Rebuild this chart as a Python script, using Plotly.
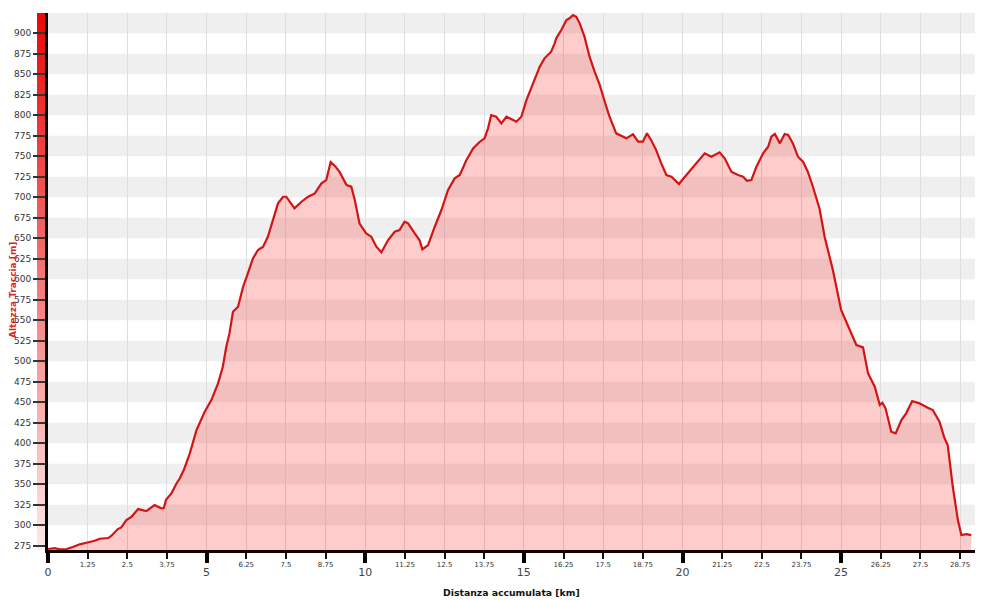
import plotly.graph_objects as go

dist_km = [0.0, 0.21, 0.37, 0.59, 0.8, 1.0, 1.21, 1.47, 1.63, 1.9, 2.0, 2.2, 2.31, 2.47, 2.63, 2.84, 3.1, 3.36, 3.57, 3.65, 3.72,
           3.89, 4.05, 4.15, 4.28, 4.47, 4.68, 4.94, 5.15, 5.36, 5.51, 5.62, 5.72, 5.83, 5.99, 6.15, 6.3, 6.46, 6.62, 6.78,
           6.93, 7.09, 7.25, 7.41, 7.51, 7.77, 7.99, 8.2, 8.41, 8.62, 8.77, 8.91, 9.05, 9.19, 9.41, 9.56, 9.67, 9.82, 10.03,
           10.19, 10.35, 10.51, 10.72, 10.93, 11.08, 11.24, 11.35, 11.56, 11.71, 11.8, 11.98, 12.19, 12.4, 12.61, 12.82,
           12.98, 13.19, 13.4, 13.61, 13.76, 13.87, 13.97, 14.13, 14.29, 14.45, 14.66, 14.76, 14.92, 15.08, 15.29, 15.5,
           15.65, 15.86, 15.97, 16.02, 16.18, 16.34, 16.44, 16.55, 16.65, 16.76, 16.91, 17.07, 17.23, 17.39, 17.55, 17.7,
           17.91, 18.12, 18.23, 18.44, 18.6, 18.75, 18.88, 19.01, 19.17, 19.33, 19.49, 19.65, 19.81, 19.89, 20.01, 20.22,
           20.49, 20.7, 20.91, 21.17, 21.33, 21.54, 21.75, 21.91, 22.03, 22.17, 22.33, 22.54, 22.7, 22.8, 22.91, 23.07,
           23.22, 23.33, 23.48, 23.64, 23.8, 23.95, 24.11, 24.32, 24.48, 24.74, 25.0, 25.27, 25.48, 25.69, 25.85, 26.06,
           26.22, 26.3, 26.4, 26.58, 26.72, 26.9, 27.05, 27.24, 27.47, 27.73, 27.89, 28.1, 28.26, 28.36, 28.52, 28.68,
           28.79, 28.95, 29.1]
elev_m = [271, 272, 270.6, 271, 273.7, 276.7, 278.6, 281, 283.5, 284.4, 287.2, 295.3, 297.4, 306.3, 310.3, 319.7, 317.3, 324.6, 320.6, 321, 331,
          338.9, 351, 357, 367.3, 387.7, 416, 438.4, 452.7, 473, 493.3, 517.7, 534, 560.4, 566.5, 590.9, 607.3, 625.5, 635.7, 639.7,
          651.9, 672.3, 692.6, 700.7, 700.7, 686.5, 694.6, 700.7, 704.8, 717, 721, 743, 738, 731, 715, 713, 696.7, 668, 656,
          652, 639.7, 632.9, 647.9, 658, 660, 670.2, 668.2, 656, 647.9, 636.5, 641.8, 664.1, 684.5, 708.9, 723.1,
          727.2, 745.5, 759.7, 767.8, 771.9, 784.1, 800.3, 798.3, 790.2, 798.3, 794.2, 792.2, 798.3, 818.6, 839, 859.3,
          869.5, 877.6, 887.8, 893.9, 904, 916.2, 918.3, 922.3, 920.2, 912.2, 895.9, 871.5, 853.2, 837, 816.6, 798.3,
          778, 773.9, 771.9, 776.8, 767.8, 767.8, 778, 769.8, 757.6, 741.4, 727.2, 725.1, 719, 716.2, 722, 731.3,
          743.4, 753.6, 749.5, 754.8, 747.5, 731.2, 727.2, 725.1, 720.2, 721, 737.3, 753.6, 761.7, 773.9, 777.2, 765.8,
          777.2, 776, 765.8, 749.5, 743.4, 731.2, 712.9, 686, 651.9, 611.3, 562.5, 538.1, 519.8, 516.9, 485.2, 468.9,
          446.6, 449.4, 442.6, 414, 412.1, 428.3, 436.5, 451.5, 448.7, 443.3, 440.5, 426.2, 406, 397.8, 346.9, 306.3,
          288, 289.2, 288]

major_ticks = [0, 5, 10, 15, 20, 25]
major_labels = ["0", "5", "10", "15", "20", "25"]
minor_ticks = [i * 1.25 for i in range(24)]
minor_labels = ["" if (v % 5 == 0) else ("%g" % v) for v in minor_ticks]
y_ticks = list(range(275, 901, 25))

X_RANGE = [0, 29.22]
Y_RANGE = [269.8, 924.8]

fig = go.Figure()
fig.add_trace(go.Scatter(
    x=dist_km, y=elev_m, mode="lines",
    line=dict(color="#d41414", width=2.2),
    fill="tozeroy", fillcolor="rgba(255,0,0,0.2)",
    showlegend=False, hoverinfo="x+y"))
fig.add_trace(go.Scatter(x=[0], y=[None], xaxis="x2", showlegend=False, hoverinfo="skip"))

shapes = []
# alternating grey bands
for b in range(300, 925, 50):
    shapes.append(dict(type="rect", xref="paper", yref="y", x0=0, x1=1, y0=b, y1=min(b + 25, Y_RANGE[1]),
                       fillcolor="#efefef", line=dict(width=0), layer="below"))
# red gradient bar left of y axis
N = 90
px_w = 927.0
px_h = 537.0
for i in range(N):
    t = i / (N - 1)
    r = int(236 + (255 - 236) * t)
    g = int(8 + (232 - 8) * t)
    bcol = int(8 + (232 - 8) * t)
    y1 = 1 - i / N
    y0 = 1 - (i + 1) / N
    shapes.append(dict(type="rect", xref="paper", yref="paper", x0=-11 / px_w, x1=0, y0=y0, y1=min(1, y1 + 0.002),
                       fillcolor="rgb(%d,%d,%d)" % (r, g, bcol), line=dict(width=0), layer="below"))
# right purple border
shapes.append(dict(type="line", xref="paper", yref="paper", x0=(998 - 48) / px_w, x1=(998 - 48) / px_w,
                   y0=-50 / px_h, y1=(537 + 13) / px_h, line=dict(color="#7b2d8e", width=2)))

# page body has an 8px margin, so the figure is made 8px smaller and shifted
fig.update_layout(
    width=992, height=592,
    margin=dict(l=40, r=25, t=5, b=50, autoexpand=False),
    paper_bgcolor="white", plot_bgcolor="white",
    shapes=shapes,
    font=dict(family="Liberation Sans, Arial", color="#333"),
    xaxis=dict(range=X_RANGE, tickmode="array", tickvals=minor_ticks, ticktext=minor_labels,
               ticks="outside", ticklen=6, tickwidth=1.6, tickcolor="#111",
               tickfont=dict(size=7, color="#333", family="DejaVu Sans"),
               showgrid=True, gridcolor="#dedede", gridwidth=1, automargin=False,
               showline=True, linecolor="#150000", linewidth=3, zeroline=False, fixedrange=True),
    xaxis2=dict(overlaying="x", matches="x", side="bottom", anchor="y", range=X_RANGE,
                tickmode="array", tickvals=major_ticks, ticktext=major_labels,
                ticks="outside", ticklen=12, tickwidth=4, tickcolor="#000", automargin=False,
                tickfont=dict(size=11, color="#444", family="DejaVu Sans"),
                showgrid=False, showline=False, zeroline=False),
    yaxis=dict(range=Y_RANGE, tickmode="array", tickvals=y_ticks,
               ticks="outside", ticklen=12, tickwidth=1.5, tickcolor="#333", automargin=False,
               tickfont=dict(size=9, color="#333", family="DejaVu Sans"),
               showgrid=False, showline=True, linecolor="#000", linewidth=3, zeroline=False),
    annotations=[
        dict(text="<b>Distanza accumulata [km]</b>", xref="paper", yref="paper",
             x=(511 - 48) / px_w, y=-42 / px_h, xanchor="center", yanchor="middle", showarrow=False,
             font=dict(size=9.3, color="#111", family="DejaVu Sans")),
        dict(text="<b>Altezza Traccia [m]</b>", xref="paper", yref="paper", textangle=-90,
             x=-35 / px_w, y=(550 - 290) / px_h, xanchor="center", yanchor="middle", showarrow=False,
             font=dict(size=9, color="#d42a2a", family="DejaVu Sans")),
    ],
)

fig.write_html("out.html")
